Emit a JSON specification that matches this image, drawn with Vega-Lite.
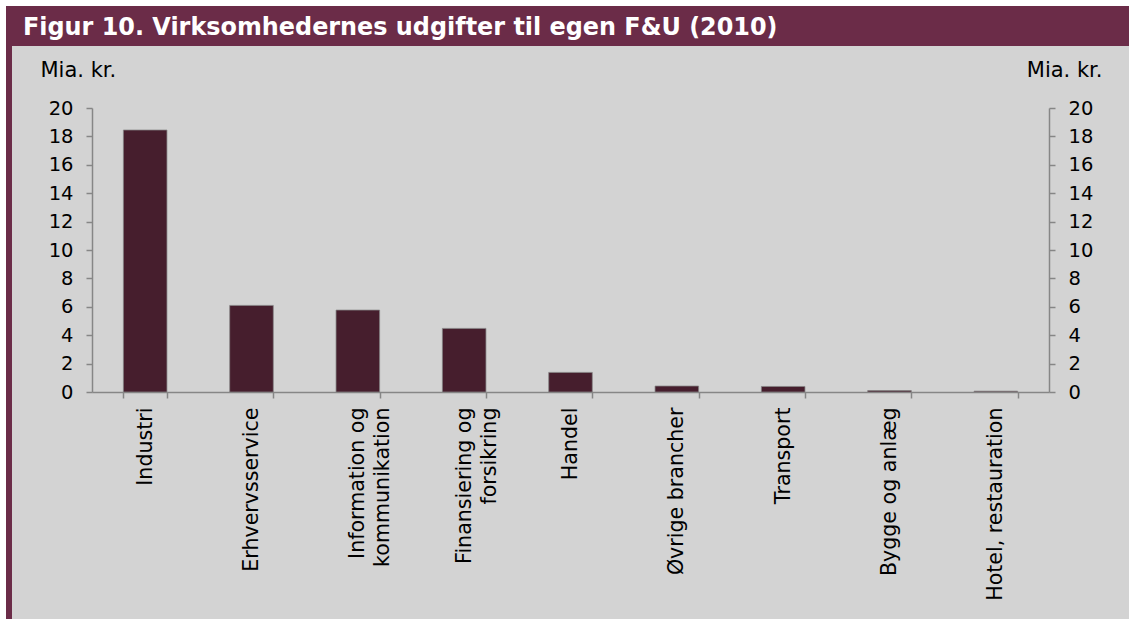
{
  "$schema": "https://vega.github.io/schema/vega-lite/v6.json",
  "background": "#D3D3D3",
  "padding": 0,
  "config": {"view": {"stroke": null}, "font": "DejaVu Sans", "concat": {"spacing": 0}},
  "spacing": 0,
  "hconcat": [
    {"width": 6, "height": 619, "view": {"fill": "white", "stroke": null}, "data": {"values": []}, "mark": "point"},
    {
      "spacing": 0,
      "vconcat": [
        {"width": 1123, "height": 6, "view": {"fill": "white", "stroke": null}, "data": {"values": []}, "mark": "point"},
        {
          "spacing": 0,
          "hconcat": [
            {"width": 6, "height": 613, "view": {"fill": "#6B2C48", "stroke": null}, "data": {"values": []}, "mark": "point"},
            {
              "spacing": 13,
              "vconcat": [
                {
                  "width": 1117,
                  "height": 40,
                  "view": {"fill": "#6B2C48", "stroke": null},
                  "data": {"values": []},
                  "mark": "point",
                  "title": {
                    "text": "Figur 10. Virksomhedernes udgifter til egen F&U (2010)",
                    "anchor": "start",
                    "frame": "group",
                    "orient": "top",
                    "offset": -34,
                    "dx": 11,
                    "color": "white",
                    "font": "DejaVu Sans",
                    "fontSize": 23.9,
                    "fontWeight": "bold"
                  }
                },
                {
                  "spacing": 0,
                  "hconcat": [
                    {"width": 28, "height": 1, "data": {"values": []}, "mark": "point"},
                    {
                      "width": 957,
                      "height": 284,
                      "data": {
                        "values": [
                          {"branche": "Industri", "udgifter": 18.45},
                          {"branche": "Erhvervsservice", "udgifter": 6.1},
                          {"branche": "Information og\nkommunikation", "udgifter": 5.77},
                          {"branche": "Finansiering og\nforsikring", "udgifter": 4.48},
                          {"branche": "Handel", "udgifter": 1.38},
                          {"branche": "Øvrige brancher", "udgifter": 0.42},
                          {"branche": "Transport", "udgifter": 0.39},
                          {"branche": "Bygge og anlæg", "udgifter": 0.1},
                          {"branche": "Hotel, restauration", "udgifter": 0.06}
                        ]
                      },
                      "encoding": {
                        "x": {
                          "field": "branche",
                          "type": "nominal",
                          "sort": null,
                          "scale": {"paddingInner": 0.59, "paddingOuter": 0.295},
                          "axis": {
                            "title": null,
                            "labelAngle": -90,
                            "labelAlign": "right",
                            "labelBaseline": "middle",
                            "labelFontSize": 20.6,
                            "labelColor": "black",
                            "labelPadding": 9,
                            "labelLineHeight": 25,
                            "labelLimit": 400,
                            "labelOverlap": false,
                            "labelExpr": "isString(datum.value) ? split(datum.value, '\\n') : ''",
                            "tickBand": "extent",
                            "tickSize": 6,
                            "tickWidth": 1.5,
                            "tickColor": "#868686",
                            "domainColor": "#868686",
                            "domainWidth": 1.5
                          }
                        }
                      },
                      "layer": [
                        {
                          "mark": {"type": "bar", "color": "#461E2D", "stroke": "#858585", "strokeWidth": 0.75},
                          "encoding": {
                            "y": {
                              "field": "udgifter",
                              "type": "quantitative",
                              "scale": {"domain": [0, 20]},
                              "axis": {
                                "orient": "left",
                                "title": "Mia. kr.",
                                "titleAngle": 0,
                                "titleAlign": "left",
                                "titleBaseline": "alphabetic",
                                "titleX": -52,
                                "titleY": -32,
                                "titleFontSize": 21,
                                "titleFontWeight": "normal",
                                "titleColor": "black",
                                "values": [0, 2, 4, 6, 8, 10, 12, 14, 16, 18, 20],
                                "format": "d",
                                "grid": false,
                                "tickSize": 6,
                                "tickWidth": 1.5,
                                "tickColor": "#868686",
                                "domainColor": "#868686",
                                "domainWidth": 1.5,
                                "labelFontSize": 19.5,
                                "labelColor": "black",
                                "labelPadding": 13
                              }
                            }
                          }
                        },
                        {
                          "mark": {"type": "bar", "opacity": 0},
                          "encoding": {
                            "y": {
                              "field": "udgifter",
                              "type": "quantitative",
                              "scale": {"domain": [0, 20]},
                              "axis": {
                                "orient": "right",
                                "title": "Mia. kr.",
                                "titleAngle": 0,
                                "titleAlign": "right",
                                "titleBaseline": "alphabetic",
                                "titleX": 53,
                                "titleY": -32,
                                "titleFontSize": 21,
                                "titleFontWeight": "normal",
                                "titleColor": "black",
                                "values": [0, 2, 4, 6, 8, 10, 12, 14, 16, 18, 20],
                                "format": "d",
                                "grid": false,
                                "tickSize": 6,
                                "tickWidth": 1.5,
                                "tickColor": "#868686",
                                "domainColor": "#868686",
                                "domainWidth": 1.5,
                                "labelFontSize": 19.5,
                                "labelColor": "black",
                                "labelPadding": 13
                              }
                            }
                          }
                        }
                      ],
                      "resolve": {"scale": {"y": "independent"}}
                    }
                  ]
                }
              ]
            }
          ]
        }
      ]
    }
  ]
}
